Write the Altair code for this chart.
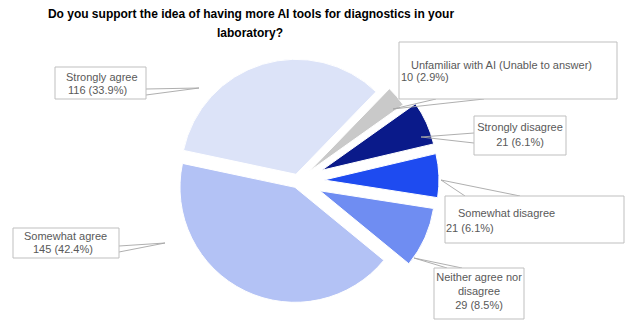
import math
import altair as alt
import pandas as pd

# ---------------- data ----------------
categories = [
    "Strongly agree",
    "Unfamiliar with AI (Unable to answer)",
    "Strongly disagree",
    "Somewhat disagree",
    "Neither agree nor disagree",
    "Somewhat agree",
]
counts = [116, 10, 21, 21, 29, 145]
percents = ["33.9%", "2.9%", "6.1%", "6.1%", "8.5%", "42.4%"]
title_lines = [
    "Do you support the idea of having more AI tools for diagnostics in your",
    "laboratory?",
]

# ---------------- style / layout ----------------
W, H = 632, 323
CX, CY, R = 298, 181, 115
START = math.radians(282)
colors = ["#DCE3F8", "#C9C9C9", "#0A1A8A", "#1E4BF0", "#6F8DF2", "#B3C2F5"]
explode = [7, 15, 26, 26, 24, 7]

# label boxes (x0, y0, x1, y1), line layout and callout pointer
label_layout = {
    "Strongly agree": dict(
        box=(55, 67, 146, 99), align="left",
        lines=[("Strongly agree", 66, 78), (None, 68, 91)],
        pointer=[(146, 89), (199, 88), (146, 95)]),
    "Unfamiliar with AI (Unable to answer)": dict(
        box=(399, 42, 617, 99), align="left",
        lines=[("Unfamiliar with AI (Unable to answer)", 411, 66), (None, 401, 78)],
        pointer=[(436, 99), (393, 109), (484, 99)]),
    "Strongly disagree": dict(
        box=(474, 116, 566, 155), align="center",
        lines=[("Strongly disagree", 520, 128), (None, 520, 143)],
        pointer=[(474, 133), (421, 137), (474, 143)]),
    "Somewhat disagree": dict(
        box=(445, 196, 624, 243), align="left",
        lines=[("Somewhat disagree", 458, 214), (None, 446, 229)],
        pointer=[(465, 196), (441, 180), (520, 196)]),
    "Neither agree nor disagree": dict(
        box=(434, 268, 524, 319), align="center",
        lines=[("Neither agree nor", 479, 278), ("disagree", 479, 292), (None, 479, 306)],
        pointer=[(447, 268), (414, 258), (462, 268)]),
    "Somewhat agree": dict(
        box=(13, 228, 119, 258), align="left",
        lines=[("Somewhat agree", 24, 237), (None, 33, 250)],
        pointer=[(119, 246), (165, 243), (119, 252)]),
}

total = sum(counts)

pie_df = pd.DataFrame({
    "category": categories,
    "count": counts,
    "idx": list(range(len(categories))),
    "color": colors,
    "explode": explode,
})

boxes, lines_rows, ptr_rows = [], [], []
for cat, n, pct in zip(categories, counts, percents):
    lay = label_layout[cat]
    x0, y0, x1, y1 = lay["box"]
    boxes.append(dict(category=cat, x0=x0, y0=y0, x1=x1, y1=y1))
    for txt, tx, ty in lay["lines"]:
        lines_rows.append(dict(category=cat, text=txt if txt is not None else f"{n} ({pct})",
                               tx=tx, ty=ty, align=lay["align"]))
    for k, (px, py) in enumerate(lay["pointer"]):
        ptr_rows.append(dict(category=cat, seq=k, px=px, py=py))

box_df = pd.DataFrame(boxes)
text_df = pd.DataFrame(lines_rows)
ptr_df = pd.DataFrame(ptr_rows)
title_df = pd.DataFrame({"text": title_lines, "tx": [251, 250], "ty": [14, 33]})

# ---------------- pie ----------------
pie = (
    alt.Chart(pie_df)
    .transform_window(cum1="sum(count)", sort=[alt.SortField("idx")], frame=[None, 0])
    .transform_calculate(cum0="datum.cum1 - datum.count")
    .transform_calculate(
        mid=f"{START} + 2*PI*(datum.cum0 + datum.count/2)/{total}"
    )
    .transform_calculate(
        px=f"{CX} + datum.explode*sin(datum.mid)",
        py=f"{CY} - datum.explode*cos(datum.mid)",
    )
    .mark_arc(radius=R, stroke="white", strokeWidth=1)
    .encode(
        x=alt.X("px:Q", scale=None, axis=None),
        y=alt.Y("py:Q", scale=None, axis=None),
        theta=alt.Theta("cum0:Q", scale=alt.Scale(domain=[0, total], range=[START, START + 2 * math.pi]), stack=False),
        theta2="cum1:Q",
        color=alt.Color("color:N", scale=None, legend=None),
    )
)

pointers = (
    alt.Chart(ptr_df)
    .mark_line(color="#A6A6A6", strokeWidth=0.9)
    .encode(
        x=alt.X("px:Q", scale=None, axis=None),
        y=alt.Y("py:Q", scale=None, axis=None),
        detail="category:N",
        order="seq:Q",
    )
)

box_layer = (
    alt.Chart(box_df)
    .mark_rect(fill="white", stroke="#BFBFBF", strokeWidth=1)
    .encode(
        x=alt.X("x0:Q", scale=None, axis=None),
        x2="x1:Q",
        y=alt.Y("y0:Q", scale=None, axis=None),
        y2="y1:Q",
    )
)

def text_layer(al):
    return (
        alt.Chart(text_df)
        .transform_filter(alt.datum.align == al)
        .mark_text(align=al, baseline="middle", font="Liberation Sans", fontSize=11, color="#595959")
        .encode(
            x=alt.X("tx:Q", scale=None, axis=None),
            y=alt.Y("ty:Q", scale=None, axis=None),
            text="text:N",
        )
    )

title_layer = (
    alt.Chart(title_df)
    .mark_text(align="center", baseline="middle", font="Liberation Sans", fontSize=12,
               fontWeight="bold", color="#000000")
    .encode(
        x=alt.X("tx:Q", scale=None, axis=None),
        y=alt.Y("ty:Q", scale=None, axis=None),
        text="text:N",
    )
)

chart = (
    alt.layer(pie, pointers, box_layer, text_layer("left"), text_layer("center"), title_layer)
    .properties(width=W, height=H, autosize=alt.AutoSizeParams(type="none"), padding=0,
                background="white")
    .configure_view(stroke=None)
)

chart.save("out.html", embed_options={"renderer": "svg", "actions": False})
